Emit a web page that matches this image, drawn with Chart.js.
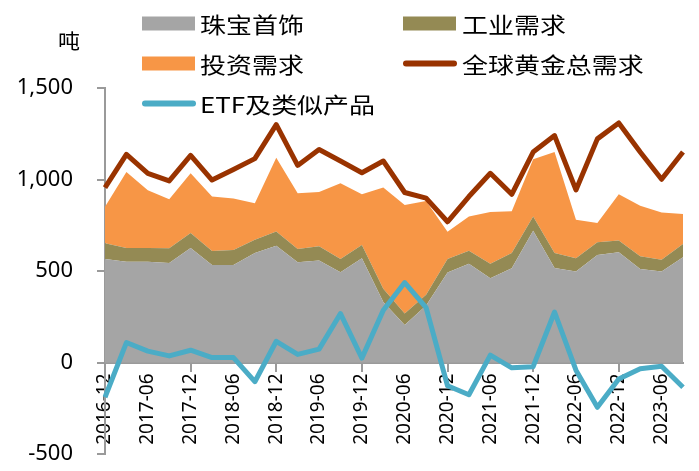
<!DOCTYPE html>
<html>
<head>
<meta charset="utf-8">
<script src="https://cdn.jsdelivr.net/npm/chart.js@4/dist/chart.umd.min.js"></script>
<style>
html,body{margin:0;padding:0;background:#ffffff;}
canvas{display:block;}
</style>
</head>
<body>
<canvas id="c" width="699" height="471"></canvas>
<script>
// ---- data (tonnes) ----
const quarters = [
  '2016-12','2017-03','2017-06','2017-09','2017-12','2018-03','2018-06','2018-09',
  '2018-12','2019-03','2019-06','2019-09','2019-12','2020-03','2020-06','2020-09',
  '2020-12','2021-03','2021-06','2021-09','2021-12','2022-03','2022-06','2022-09',
  '2022-12','2023-03','2023-06','2023-09'
];
const jewelry = [566, 551, 551, 544, 626, 533, 533, 598, 638, 548, 557, 493, 570, 330,
                 205, 312, 492, 539, 461, 515, 720, 517, 497, 588, 602, 511, 497, 575];
const industry = [85, 75, 75, 80, 81, 76, 82, 73, 78, 72, 78, 73, 72, 73,
                  63, 58, 74, 72, 78, 83, 78, 81, 73, 69, 64, 69, 65, 72];
const investment = [200, 415, 315, 268, 327, 298, 281, 199, 403, 305, 297, 413, 277, 553,
                    592, 513, 148, 187, 284, 229, 312, 552, 210, 105, 253, 276, 258, 164];
const totalDemand = [956, 1137, 1034, 992, 1132, 997, 1055, 1114, 1300, 1077, 1164, 1101, 1037, 1101,
                     929, 898, 769, 907, 1034, 919, 1150, 1240, 943, 1222, 1309, 1150, 1001, 1150];
const etf = [-190, 109, 62, 36, 67, 27, 27, -105, 116, 44, 73, 267, 24, 285,
             437, 300, -127, -176, 40, -29, -23, 276, -42, -245, -90, -34, -20, -135];
const yTicks = [-500, 0, 500, 1000, 1500];
const unitLabel = '吨';
const names = {
  jewelry: '珠宝首饰', industry: '工业需求', investment: '投资需求',
  total: '全球黄金总需求', etf: 'ETF及类似产品'
};

const AXIS = '#9a9a9a';
const CJK = "'Noto Sans CJK SC', 'Noto Sans', sans-serif";

// legend drawn in the top area, two columns, from the datasets
const cornerLegend = {
  id: 'cornerLegend',
  afterDraw(chart) {
    const ctx = chart.ctx;
    const ds = chart.data.datasets;
    const layout = [
      { i: 2, col: 0, row: 0 },
      { i: 3, col: 1, row: 0 },
      { i: 4, col: 0, row: 1 },
      { i: 1, col: 1, row: 1 },
      { i: 0, col: 0, row: 2 }
    ];
    const swX = [142, 403], txX = [200, 462], rowY = [23.5, 63.5, 103.5];
    ctx.save();
    layout.forEach(it => {
      const d = ds[it.i];
      const x = swX[it.col], y = rowY[it.row];
      if (d.fill) {
        ctx.fillStyle = d.backgroundColor;
        ctx.fillRect(x, y - 7, 53, 14);
      } else {
        ctx.strokeStyle = d.borderColor;
        ctx.lineWidth = 6;
        ctx.lineCap = 'round';
        ctx.beginPath();
        ctx.moveTo(x + 3, y);
        ctx.lineTo(x + 51, y);
        ctx.stroke();
      }
      ctx.save();
      ctx.translate(txX[it.col], y + 1);
      ctx.scale(1.18, 1);
      ctx.fillStyle = '#000';
      ctx.font = '22px ' + CJK;
      ctx.textBaseline = 'middle';
      ctx.textAlign = 'left';
      ctx.fillText(d.label, 0, 0);
      ctx.restore();
    });
    // unit label
    ctx.save();
    ctx.translate(69, 41);
    ctx.scale(1.1, 1);
    ctx.fillStyle = '#000';
    ctx.font = '20px ' + CJK;
    ctx.textAlign = 'center';
    ctx.textBaseline = 'middle';
    ctx.fillText(unitLabel, 0, 0);
    ctx.restore();
    ctx.restore();
  }
};

new Chart(document.getElementById('c'), {
  type: 'line',
  data: {
    labels: quarters,
    datasets: [
      { label: names.etf, data: etf, stack: 'etf', fill: false,
        borderColor: '#4BACC6', backgroundColor: '#4BACC6', borderWidth: 5,
        borderJoinStyle: 'round', pointRadius: 0, tension: 0 },
      { label: names.total, data: totalDemand, stack: 'total', fill: false,
        borderColor: '#993300', backgroundColor: '#993300', borderWidth: 5,
        borderJoinStyle: 'round', pointRadius: 0, tension: 0 },
      { label: names.jewelry, data: jewelry, stack: 'demand', fill: 'origin',
        backgroundColor: '#A5A5A5', borderColor: '#A5A5A5', borderWidth: 0, pointRadius: 0 },
      { label: names.industry, data: industry, stack: 'demand', fill: '-1',
        backgroundColor: '#948A54', borderColor: '#948A54', borderWidth: 0, pointRadius: 0 },
      { label: names.investment, data: investment, stack: 'demand', fill: '-1',
        backgroundColor: '#F79646', borderColor: '#F79646', borderWidth: 0, pointRadius: 0 }
    ]
  },
  options: {
    responsive: false,
    animation: false,
    devicePixelRatio: 1,
    layout: { padding: { left: 0, top: 88, right: 16, bottom: 17 } },
    plugins: { legend: { display: false }, tooltip: { enabled: false } },
    scales: {
      x: {
        type: 'category',
        position: { y: 0 },
        offset: false,
        afterFit: (s) => { s.paddingLeft = 0; s.paddingRight = 0; },
        grid: {
          drawOnChartArea: false, drawTicks: true, tickLength: 8, lineWidth: 2,
          color: (c) => (c.index % 2 === 0 ? AXIS : 'rgba(0,0,0,0)')
        },
        border: { display: true, color: AXIS, width: 2 },
        ticks: {
          autoSkip: false, minRotation: 90, maxRotation: 90, padding: 3,
          color: '#000', font: { family: "'Noto Sans', sans-serif", size: 19 },
          callback: function (v, i) { return i % 2 === 0 ? this.getLabelForValue(v) : null; }
        }
      },
      y: {
        stacked: true,
        min: -500, max: 1500,
        afterBuildTicks: (s) => { s.ticks = yTicks.map(v => ({ value: v })); },
        afterFit: (s) => { s.width = 105; s.paddingTop = 0; s.paddingBottom = 0; },
        grid: { drawOnChartArea: false, drawTicks: true, tickLength: 8, lineWidth: 2, color: AXIS },
        border: { display: true, color: AXIS, width: 2 },
        ticks: {
          padding: 24, color: '#000',
          font: { family: "'Noto Sans', sans-serif", size: 22 }
        }
      }
    }
  },
  plugins: [cornerLegend]
});
</script>
</body>
</html>
